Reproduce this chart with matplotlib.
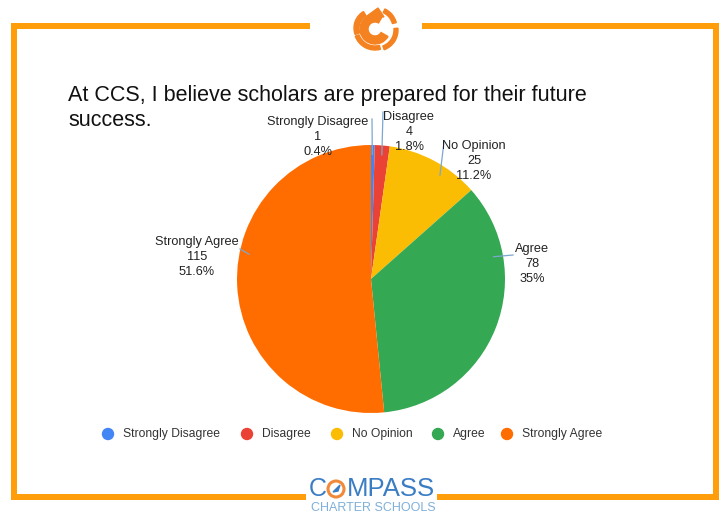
import matplotlib
matplotlib.use("Agg")
import matplotlib.pyplot as plt
from matplotlib.patches import Wedge, Circle, Polygon
import numpy as np

plt.rcParams['font.family'] = ['Liberation Sans', 'DejaVu Sans']

# ---- data ----
categories = ["Strongly Disagree", "Disagree", "No Opinion", "Agree", "Strongly Agree"]
counts = [1, 4, 25, 78, 115]
colors = ["#4285F4", "#EA4335", "#FBBC04", "#34A853", "#FF6D01"]
title_lines = ["At CCS, I believe scholars are prepared for their future", "success."]

W, H = 727, 517
fig = plt.figure(figsize=(W / 100, H / 100), dpi=100)
ax = fig.add_axes([0, 0, 1, 1])

def Y(y):
    return H - y

# ---- pie ----
pc = (371, Y(279))
R = 134
wedges, _ = ax.pie(counts, colors=colors, startangle=90, counterclock=False,
                   center=pc, radius=R, wedgeprops=dict(linewidth=0))
ax.set_xlim(0, W)
ax.set_ylim(0, H)
ax.set_aspect('equal')
ax.axis('off')

# ---- frame ----
frame_c = "#FF9E0A"
lw = 6 * 0.72
fl, fr, ft, fb = 14, 716, 26, 497
ax.plot([307, fl, fl, 303], [Y(ft), Y(ft), Y(fb), Y(fb)], color=frame_c, lw=lw, solid_joinstyle='miter')
ax.plot([425, fr, fr, 440], [Y(ft), Y(ft), Y(fb), Y(fb)], color=frame_c, lw=lw, solid_joinstyle='miter')

# ---- top logo (swirl) ----
lc = "#F58220"
cx, cy = 375, 29
ax.add_patch(Wedge((cx, Y(cy)), 15, 60, 330, width=8, color=lc))
ax.add_patch(Wedge((cx + 1, Y(cy) + 1), 21, 15, 65, width=4, color=lc))
ax.add_patch(Wedge((cx + 2, Y(cy) - 1), 21, -70, 5, width=4, color=lc))
ax.add_patch(Wedge((cx, Y(cy)), 21, 200, 285, width=4, color=lc))
ax.add_patch(Wedge((cx - 2, Y(cy) + 1), 19, 120, 200, width=5, color=lc))
ax.add_patch(Polygon([[cx - 8, Y(cy) + 13], [cx + 3, Y(cy) + 21], [cx + 9, Y(cy) + 12]], color=lc))

# ---- title ----
title_y = [95, 121]
for line, ty in zip(title_lines, title_y):
    ax.text(68, Y(ty), line, fontsize=15.5, color="#111111", ha='left', va='center')

total = sum(counts)
def pct(v):
    s = "{:.1f}".format(100 * v / total)
    if s.endswith(".0"):
        s = s[:-2]
    return s + "%"

# label layout: text center (px), leader start (px), leader end angle (deg clockwise from top)
label_pos = [(318, 137), (409, 132), (474, 161), (532, 264), (197, 257)]
leader_start = [(372, 119), (383, 112), (444, 142), (513, 255), (240, 249)]
leader_angle = [0.6, 5.0, 33.6, 79.7, 281.5]
leader_c = "#7BA7D0"
for i, cat in enumerate(categories):
    tx, ty = label_pos[i]
    ax.text(tx, Y(ty), "{}\n{}\n{}".format(cat, counts[i], pct(counts[i])),
            fontsize=9.2, color="#222222", ha='center', va='center', linespacing=1.32, zorder=5)
    a = np.deg2rad(leader_angle[i])
    r_end = R * 0.93
    ex = pc[0] + r_end * np.sin(a)
    ey = pc[1] + r_end * np.cos(a)
    sx, sy = leader_start[i]
    ax.plot([sx, ex], [Y(sy), ey], color=leader_c, lw=0.9, zorder=4)

# ---- legend ----
leg_x = [108, 247, 337, 438, 507]
for i, cat in enumerate(categories):
    ax.add_patch(Circle((leg_x[i], Y(434)), 5.5, color=colors[i]))
    ax.text(leg_x[i] + 15, Y(434), cat, fontsize=8.7, color="#333333", ha='left', va='center')

# ---- bottom logo ----
blue = "#3B7DC4"
ax.text(309, Y(489), "C", fontsize=18, color=blue, ha='left', va='center')
ax.add_patch(Circle((336, Y(489)), 8, fill=False, edgecolor="#F08A3A", lw=2.2))
ax.add_patch(Polygon([[333, Y(492)], [340, Y(485)], [338, Y(491)]], color=blue))
ax.text(347, Y(489), "MPASS", fontsize=18.5, color=blue, ha='left', va='center')
ax.text(373, Y(508), "CHARTER SCHOOLS", fontsize=9, color="#7FB0DA", ha='center', va='center')

fig.savefig("out.png", dpi=100, facecolor='white')
